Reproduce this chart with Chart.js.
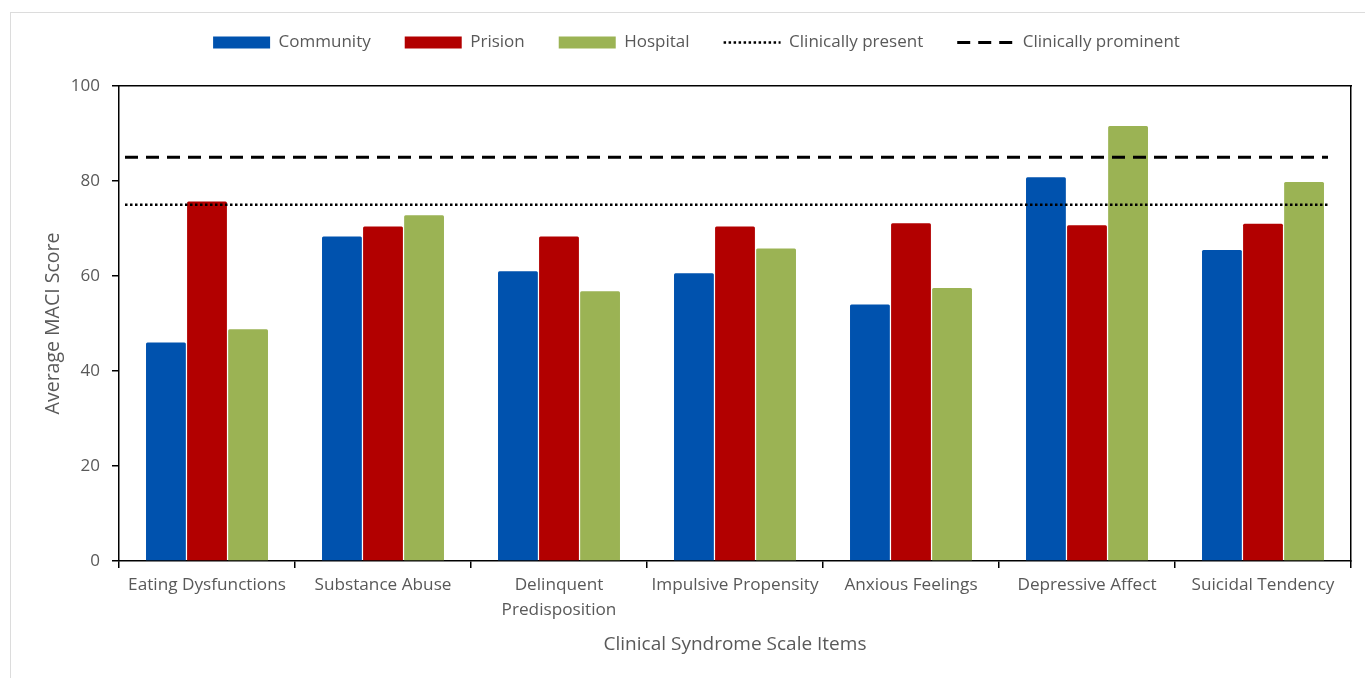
<!DOCTYPE html>
<html>
<head>
<meta charset="utf-8">
<script src="https://cdn.jsdelivr.net/npm/chart.js@4.4.1/dist/chart.umd.min.js"></script>
<style>
  html, body { margin: 0; padding: 0; background: #fff; }
  #wrap { position: relative; width: 1365px; height: 678px; overflow: hidden; }
  #frame { position: absolute; left: 10px; top: 12px; width: 1400px; height: 700px;
           border: 1.5px solid #dcdcdc; box-sizing: border-box; }
  canvas { position: absolute; left: 0; top: 0; }
</style>
</head>
<body>
<div id="wrap">
  <div id="frame"></div>
  <canvas id="chart" width="1365" height="678"></canvas>
</div>
<script>
// Clinical syndrome scale items (x categories)
const categories = [
  'Eating Dysfunctions',
  'Substance Abuse',
  ['Delinquent', 'Predisposition'],
  'Impulsive Propensity',
  'Anxious Feelings',
  'Depressive Affect',
  'Suicidal Tendency'
];

// Average MACI scores per sample group
const community = [46.0, 68.3, 61.0, 60.6, 54.0, 80.8, 65.5];
const prision   = [75.7, 70.4, 68.3, 70.4, 71.1, 70.7, 71.0];
const hospital  = [48.8, 72.8, 56.8, 65.8, 57.5, 91.6, 79.8];

// Y axis tick values
const yTicks = [0, 20, 40, 60, 80, 100];

// Clinical cut-off reference lines
const thresholdLabels = ['Clinically present', 'Clinically prominent'];
const thresholdValues = [75, 85];

// ---- styling ----
const FONT = '"Open Sans"';
const TEXT = '#595959';
const seriesColors = ['#0052AE', '#B20000', '#9BB354'];
const thresholdStyles = [
  { dash: [2.5, 2.5], width: 2.5 },
  { dash: [13, 8], width: 3 }
];

const thresholdPlugin = {
  id: 'thresholdLines',
  afterDatasetsDraw(chart) {
    const { ctx, chartArea, scales } = chart;
    ctx.save();
    thresholdValues.forEach((v, i) => {
      const st = thresholdStyles[i];
      const py = scales.y.getPixelForValue(v);
      ctx.beginPath();
      ctx.setLineDash(st.dash);
      ctx.lineWidth = st.width;
      ctx.strokeStyle = '#000';
      ctx.moveTo(chartArea.left + 6, py);
      ctx.lineTo(chartArea.right - 23, py);
      ctx.stroke();
    });
    ctx.restore();
  }
};

const barStyle = { borderWidth: 0, borderRadius: 1.5, barPercentage: 0.97, categoryPercentage: 0.7 };

new Chart(document.getElementById('chart'), {
  type: 'bar',
  data: {
    labels: categories,
    datasets: [
      { label: 'Community', data: community, backgroundColor: seriesColors[0], ...barStyle },
      { label: 'Prision',   data: prision,   backgroundColor: seriesColors[1], ...barStyle },
      { label: 'Hospital',  data: hospital,  backgroundColor: seriesColors[2], ...barStyle }
    ]
  },
  plugins: [thresholdPlugin],
  options: {
    responsive: false,
    animation: false,
    devicePixelRatio: 1,
    layout: { padding: { left: 42, right: 14, top: 0, bottom: 10 } },
    plugins: {
      tooltip: { enabled: false },
      legend: {
        position: 'top',
        labels: {
          usePointStyle: true,
          pointStyleWidth: 57,
          boxHeight: 12,
          padding: 34,
          color: TEXT,
          font: { family: FONT, size: 17 },
          generateLabels(chart) {
            const items = Chart.defaults.plugins.legend.labels.generateLabels(chart);
            items.forEach(it => { it.pointStyle = 'rect'; it.lineWidth = 0; });
            thresholdLabels.forEach((t, i) => {
              items.push({
                text: t,
                fillStyle: 'rgba(0,0,0,0)',
                strokeStyle: '#000',
                lineWidth: thresholdStyles[i].width,
                lineDash: thresholdStyles[i].dash,
                pointStyle: 'line',
                fontColor: TEXT,
                hidden: false
              });
            });
            return items;
          }
        }
      }
    },
    scales: {
      x: {
        type: 'category',
        offset: true,
        grid: { display: true, drawOnChartArea: false, drawTicks: true, tickLength: 7,
                color: '#000', lineWidth: 1.5, offset: true },
        border: { display: true, color: '#000', width: 1.5 },
        ticks: { color: TEXT, font: { family: FONT, size: 17.2, lineHeight: 1.45 },
                 padding: 5, maxRotation: 0, autoSkip: false },
        title: { display: true, text: 'Clinical Syndrome Scale Items', color: TEXT,
                 font: { family: FONT, size: 19 }, padding: { top: 0, bottom: 12 } },
        afterFit(s) { s.height = 107; }
      },
      x2: {
        type: 'category',
        position: 'top',
        grid: { display: false },
        ticks: { display: false },
        border: { display: true, color: '#000', width: 1.5 },
        afterFit(s) { s.height = 25; }
      },
      y: {
        min: yTicks[0],
        max: yTicks[yTicks.length - 1],
        grid: { display: true, drawOnChartArea: false, drawTicks: true, tickLength: 7,
                color: '#000', lineWidth: 1.5 },
        border: { display: true, color: '#000', width: 1.5 },
        ticks: { stepSize: yTicks[1] - yTicks[0], color: TEXT,
                 font: { family: FONT, size: 17 }, padding: 12 },
        title: { display: true, text: 'Average MACI Score', color: TEXT,
                 font: { family: FONT, size: 19.5 }, padding: { top: 0, bottom: 0 } },
        afterFit(s) { s.width = 77; }
      },
      y2: {
        type: 'linear',
        position: 'right',
        grid: { display: false },
        ticks: { display: false },
        border: { display: true, color: '#000', width: 1.5 },
        afterFit(s) { s.width = 0; }
      }
    }
  }
});
</script>
</body>
</html>
